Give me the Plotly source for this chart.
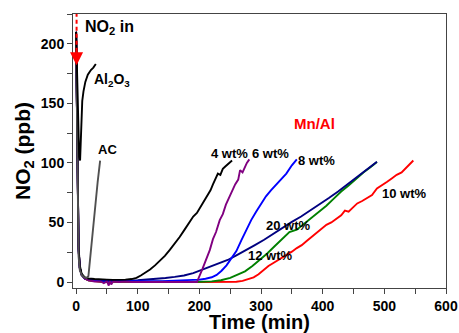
import plotly.graph_objects as go

# ---------------- data ----------------
t_al2o3 = [0, 1, 2, 3, 4, 5, 6.5, 7.5, 8.5, 10, 12, 15, 19, 24, 28, 32]
v_al2o3 = [210, 188, 162, 138, 118, 105, 102, 118, 140, 152, 160, 168, 174, 178, 180, 183]

t_ac = [0, 1, 2, 3, 4, 6, 9, 13, 17, 20, 23, 26, 29, 32, 35, 39]
v_ac = [208, 160, 100, 50, 22, 10, 6, 4, 3.5, 5, 22, 38, 55, 70, 84, 102]

t_4 = [0, 1, 2, 3, 4, 6, 9, 14, 20, 30, 40, 50, 60, 70, 80, 90, 98, 105, 112, 120, 128, 136,
       144, 152, 160, 168, 176, 184, 190, 196, 202, 208, 213, 218, 222, 226, 230, 234, 238,
       242, 246, 250, 253]
v_4 = [210, 170, 110, 60, 30, 14, 7, 4, 3, 2.5, 2, 2, 1.8, 1.8, 2, 2.5, 3.5, 5.5, 7.5, 10.5,
       14, 18, 22, 27, 32, 37.8, 44, 50, 55, 58, 63, 69, 72, 77, 82, 86, 91, 90, 95, 97, 99,
       101, 102]

t_6 = [0, 1, 2, 3, 4, 6, 9, 14, 20, 30, 40, 45, 50, 53, 55, 57, 60, 70, 80, 90, 100, 120,
       140, 160, 180, 190, 196, 205, 212, 217, 222, 227, 233, 238, 243, 248, 253, 258, 263,
       266, 270, 274, 277, 281]
v_6 = [210, 165, 105, 55, 28, 12, 6, 3, 1.5, 0.5, 0.5, -1, 0.5, -3, 1, -2, 0.5, 0, 0.5, 0,
       0, 0, 0, 0, 0, 0, 0, 11, 20, 27, 36, 42, 52, 57, 65, 71, 76, 82, 86, 94, 92, 97, 100,
       103]

t_8 = [0, 1, 2, 3, 4, 6, 9, 14, 20, 40, 60, 80, 100, 120, 140, 160, 180, 200, 210, 220, 228,
       236, 244, 252, 260, 268, 276, 284, 292, 300, 308, 316, 325, 333, 341, 350, 355, 358]
v_8 = [210, 165, 105, 55, 28, 12, 6, 3, 2, 1, 0.8, 0.8, 0.8, 0.8, 0.8, 1, 1.3, 2, 2.8, 4, 6,
       9.5, 14, 20, 26, 35, 44, 52, 59, 66, 72, 77, 82, 87, 91, 98, 101, 103]

t_20 = [0, 1, 2, 3, 4, 6, 9, 14, 20, 40, 60, 80, 100, 115, 130, 145, 160, 175, 190, 206, 220,
        233, 246, 260, 275, 290, 305, 320, 335, 350, 365, 380, 395, 410, 425, 440, 455, 468,
        478, 488]
v_20 = [210, 165, 105, 55, 28, 12, 6, 3, 2, 1.2, 1, 1.2, 1.5, 2, 2.6, 3.4, 4.3, 5.5, 7.5,
        10.5, 13, 15.4, 18.5, 22.4, 26.5, 31, 35.5, 40.5, 46, 50.5, 55, 60, 65, 70.5, 76, 82,
        88, 93, 97, 101]

t_12 = [0, 1, 2, 3, 4, 6, 9, 14, 20, 40, 80, 120, 160, 200, 220, 235, 250, 262, 274, 286,
        298, 310, 322, 334, 346, 358, 370, 382, 394, 406, 418, 430, 442, 454, 466, 478, 488]
v_12 = [210, 165, 105, 55, 28, 12, 6, 3, 1.5, 0.5, 0.3, 0.3, 0.3, 0.3, 0.6, 1.5, 3.5, 6,
        9, 13.5, 18.5, 24, 30, 36, 42, 44, 49, 54.5, 59, 64, 70, 76, 81, 86.5, 92, 96.5,
        100.7]

t_10 = [0, 1, 2, 3, 4, 6, 9, 14, 20, 40, 80, 120, 160, 200, 240, 260, 270, 280, 288, 296,
        304, 312, 320, 331, 340, 350, 358, 366, 374, 382, 390, 398, 406, 414, 422, 430, 436,
        442, 448, 456, 464, 472, 480, 488, 496, 504, 512, 520, 528, 535, 541, 547]
v_10 = [210, 165, 105, 55, 28, 12, 6, 3, 1.5, 0.3, 0, 0, 0, 0, 0, 0.3, 1, 2.5, 4, 6.5, 10,
        13.5, 16, 19.5, 22, 25.5, 28.5, 31, 34.5, 38, 41.5, 45, 48, 50, 53, 56, 60, 59, 62,
        66, 68, 70.5, 73, 78.5, 81, 84, 87, 90, 92, 96, 99, 102]

series = [
    ("10 wt%", t_10, v_10, "#ff0000"),
    ("12 wt%", t_12, v_12, "#008000"),
    ("20 wt%", t_20, v_20, "#000080"),
    ("8 wt%", t_8, v_8, "#0000ff"),
    ("6 wt%", t_6, v_6, "#800080"),
    ("4 wt%", t_4, v_4, "#000000"),
    ("AC", t_ac, v_ac, "#505050"),
    ("Al2O3", t_al2o3, v_al2o3, "#000000"),
]

x_ticks = [0, 100, 200, 300, 400, 500, 600]
y_ticks = [0, 50, 100, 150, 200]

# label texts and anchor positions (data coords)
labels = [
    ("NO<sub>2</sub> in", 12, 214, 16, "#000000"),
    ("Al<sub>2</sub>O<sub>3</sub>", 25, 170, 14, "#000000"),
    ("AC", 33, 111, 13, "#000000"),
    ("4 wt%", 215, 107.5, 13, "#000000"),
    ("6 wt%", 282, 107.5, 13, "#000000"),
    ("8 wt%", 357, 102, 13, "#000000"),
    ("Mn/Al", 350, 133.5, 15, "#ff0000"),
    ("10 wt%", 493, 74, 13, "#000000"),
    ("20 wt%", 305, 47.5, 13, "#000000"),
    ("12 wt%", 276, 22.4, 13, "#000000"),
]

FONT = "Liberation Sans, Arial, sans-serif"

fig = go.Figure()
for name, t, v, c in series:
    fig.add_trace(go.Scatter(x=t, y=v, mode="lines", name=name,
                             line=dict(color=c, width=1.9), showlegend=False))

for text, x, y, size, col in labels:
    fig.add_annotation(x=x, y=y, text=text, showarrow=False, xanchor="left",
                       yanchor="middle",
                       font=dict(family=FONT, size=size, color=col, weight="bold"))

# red dashed "NO2 in" arrow
fig.add_shape(type="line", x0=0.8, x1=0.8, y0=226, y1=193, xref="x", yref="y",
              layer="above", line=dict(color="#ff0000", width=2, dash="4px,3px"))
fig.add_annotation(x=0.8, y=182, ax=0.8, ay=195, xref="x", yref="y", axref="x", ayref="y",
                   text="", showarrow=True, arrowhead=2, arrowsize=1.3, arrowwidth=2,
                   arrowcolor="#ff0000")

axis_common = dict(showline=True, mirror=True, linecolor="#444444", linewidth=1,
                   ticks="outside", ticklen=5, tickwidth=1, tickcolor="#444444",
                   showgrid=False, zeroline=False, automargin=False,
                   tickfont=dict(family=FONT, size=14, color="#000000", weight="bold"))

fig.update_xaxes(range=[-5, 600], tickvals=x_ticks,
                 minor=dict(dtick=50, tick0=0, ticks="outside", ticklen=5,
                            tickcolor="#444444"),
                 title=dict(text="Time (min)", standoff=0,
                            font=dict(family=FONT, size=20, color="#000000",
                                      weight="bold")),
                 **axis_common)
fig.update_yaxes(range=[-5, 225], tickvals=y_ticks,
                 minor=dict(dtick=25, tick0=0, ticks="outside", ticklen=5,
                            tickcolor="#444444"),
                 title=dict(text="NO<sub>2</sub> (ppb)", standoff=4,
                            font=dict(family=FONT, size=21, color="#000000",
                                      weight="bold")),
                 **axis_common)

fig.update_layout(width=459, height=333, margin=dict(l=73, r=13, t=14, b=45),
                  plot_bgcolor="white", paper_bgcolor="white")

fig.write_html("out.html", config={"displayModeBar": False},
               post_script="document.body.style.margin='0';document.body.style.padding='0';")
